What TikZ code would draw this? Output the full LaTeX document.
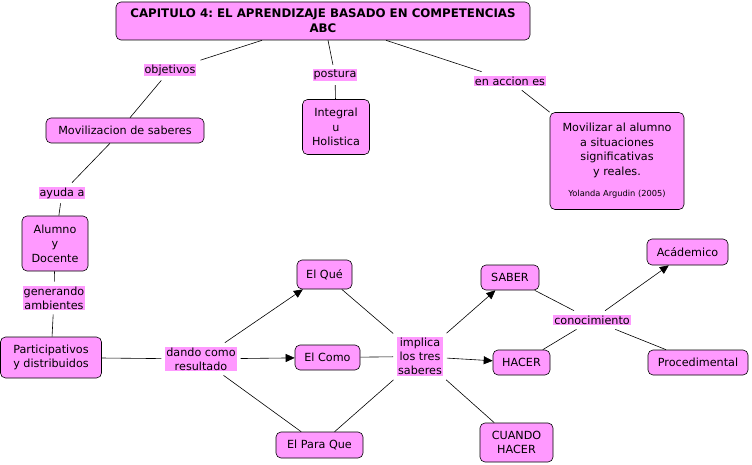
\documentclass[tikz,border=0pt]{standalone}
\usepackage{fontspec}
\setmainfont{DejaVu Sans}
\usetikzlibrary{positioning,arrows.meta}
\frenchspacing

\definecolor{cmappink}{RGB}{255,153,255}

\begin{document}
\begin{tikzpicture}[
      x=1pt, y=-1pt,
      >={Triangle[length=9pt,width=8pt]},
      concept/.style={draw, rounded corners=5pt, fill=cmappink,
                      align=center, inner sep=2pt, minimum height=25pt,
                      line width=0.6pt, font=\fontsize{11.2}{14.5}\selectfont},
      link/.style={fill=cmappink, inner sep=1pt, align=center,
                   outer sep=4pt, font=\fontsize{11.2}{14}\selectfont},
      line/.style={draw, line width=0.6pt},
      arr/.style={->, line width=0.6pt}
    ]
    \useasboundingbox (0,0) rectangle (752,465);

    % Main title
    \node[concept, minimum width=414pt, minimum height=38pt,
          font=\bfseries\fontsize{11.8}{15}\selectfont] (title)
          at (323,21) {CAPITULO 4: EL APRENDIZAJE BASADO EN COMPETENCIAS\\ABC};

    % First level
    \node[concept, minimum width=158pt] (moviliz) at (125,130.5) {Movilizacion de saberes};
    \node[concept, minimum width=67pt, minimum height=55pt] (integral) at (336,127) {Integral\\u\\Holistica};
    \node[concept, minimum width=134pt, minimum height=97pt] (movalumno) at (617,161)
          {Movilizar al alumno\\a situaciones\\significativas\\y reales.\\[7pt]{\fontsize{8.3}{10}\selectfont Yolanda Argudin (2005)}};

    % Links from title
    \node[link] (objetivos) at (170,70) {objetivos};
    \node[link] (postura) at (335,75) {postura};
    \node[link] (enaccion) at (510,81) {en accion es};

    % Left column
    \node[link] (ayuda) at (62,193) {ayuda a};
    \node[concept, minimum width=66pt, minimum height=55pt] (alumno) at (55,243.5) {Alumno\\y\\Docente};
    \node[link] (generando) at (54,298) {generando\\ambientes};
    \node[concept, minimum width=101pt, minimum height=41pt] (particip) at (51,357.5) {Participativos\\y distribuidos};

    % Middle part
    \node[link] (dando) at (201,359) {dando como\\resultado};
    \node[concept, minimum width=55pt, minimum height=29pt] (que) at (324.5,274.5) {El Qué};
    \node[concept, minimum width=65pt] (como) at (327.5,357.5) {El Como};
    \node[concept, minimum width=87pt, minimum height=26pt] (paraque) at (319.5,445) {El Para Que};
    \node[link] (implica) at (420,356.5) {implica\\los tres\\saberes};

    % Right part
    \node[concept, minimum width=58pt] (saber) at (510,277.5) {SABER};
    \node[concept, minimum width=57pt] (hacer) at (521.5,362.5) {HACER};
    \node[concept, minimum width=73pt, minimum height=39pt] (cuando) at (516.5,442.5) {CUANDO\\HACER};
    \node[link] (conoc) at (592,320) {conocimiento};
    \node[concept, minimum width=81pt, minimum height=26pt] (academico) at (687.5,252) {Acádemico};
    \node[concept, minimum width=100pt] (proced) at (698,362.5) {Procedimental};

    % Draw connections
    \draw[line] (title.south -| 262,0) -- (objetivos);
    \draw[line] (objetivos) -- (moviliz.north -| 130,0);
    \draw[line] (title.south -| 328,0) -- (postura);
    \draw[line] (postura) -- (integral);
    \draw[line] (title.south -| 386,0) -- (enaccion);
    \draw[line] (enaccion) -- (movalumno.north west);

    \draw[line] (moviliz.south -| 110,0) -- (ayuda);
    \draw[line] (ayuda) -- (alumno);
    \draw[line] (alumno) -- (generando);
    \draw[line] (generando) -- (particip);

    \draw[line] (particip) -- (dando);
    \draw[arr] (dando) -- (que);
    \draw[arr] (dando) -- (como);
    \draw[line] (dando) -- (paraque);

    \draw[line] (que) -- (implica);
    \draw[line] (como) -- (implica);
    \draw[line] (paraque) -- (implica);
    \draw[arr] (implica) -- (saber);
    \draw[arr] (implica) -- (hacer);
    \draw[line] (implica) -- (cuando);

    \draw[line] (saber) -- (conoc);
    \draw[line] (hacer) -- (conoc);
    \draw[arr] (conoc) -- (academico);
    \draw[line] (conoc) -- (proced);

  \end{tikzpicture}
\end{document}
